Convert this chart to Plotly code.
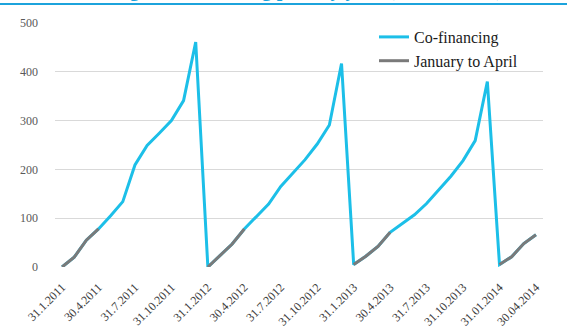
import base64
import plotly.graph_objects as go

# Categories: monthly points Jan 2011 - Apr 2014
years = [2011, 2012, 2013, 2014]
months = [f"{y}-{m:02d}" for y in years for m in range(1, 13)][:40]

cofinancing = [
    0, 20, 55, 78, 105, 134, 209, 249, 274, 300, 341, 461,
    0, 24, 47, 78, 104, 129, 165, 192, 220, 252, 291, 417,
    5, 22, 42, 71, 89, 107, 130, 158, 186, 218, 259, 380,
    5, 21, 48, 66,
]
jan_to_apr = [v if int(m[-2:]) <= 4 else None for m, v in zip(months, cofinancing)]

tick_labels = ["31.1.2011", "30.4.2011", "31.7.2011", "31.10.2011",
               "31.1.2012", "30.4.2012", "31.7.2012", "31.10.2012",
               "31.1.2013", "30.4.2013", "31.7.2013", "31.10.2013",
               "31.01.2014", "30.04.2014"]
tick_positions = months[::3]

W, H = 567, 329
ML, MR, MT, MB = 55, 24, 23, 62
pw, ph = W - ML - MR, H - MT - MB

CYAN = "#1cbfe8"
GRAY = "#7a7a7a"
TITLE = "#1ca3dc"
FONT = "Liberation Serif"


def py(pixel_y):
    """pixel row from top -> paper y"""
    return 1 + (MT - pixel_y) / ph


def px(pixel_x):
    return (pixel_x - ML) / pw


fig = go.Figure()
fig.add_trace(go.Scatter(x=months, y=cofinancing, mode="lines", name="Co-financing",
                         line=dict(color=CYAN, width=3)))
fig.add_trace(go.Scatter(x=months, y=jan_to_apr, mode="lines", name="January to April",
                         line=dict(color=GRAY, width=3), connectgaps=False))

fig.update_layout(
    width=W, height=H,
    margin=dict(l=ML, r=MR, t=MT, b=MB, autoexpand=False),
    paper_bgcolor="white", plot_bgcolor="white",
    font=dict(family=FONT, color="#595959"),
    showlegend=True,
    legend=dict(x=px(374), y=py(20), xanchor="left", yanchor="top",
                font=dict(size=16, color="#1a1a1a", family=FONT),
                bgcolor="rgba(0,0,0,0)", tracegroupgap=0),
    xaxis=dict(type="category", range=[-0.58, len(months) - 1 + 0.58], automargin=False,
               tickmode="array", tickvals=tick_positions, ticktext=tick_labels,
               tickangle=-45, tickfont=dict(size=12, color="#404040"),
               showgrid=False, showline=False, zeroline=False, ticks="",
               ticklabelstandoff=10),
    yaxis=dict(range=[0, 500], tickvals=[0, 100, 200, 300, 400, 500], automargin=False,
               showgrid=True, gridcolor="#d9d9d9", gridwidth=1, zeroline=False,
               showline=False, ticks="", tickfont=dict(size=12, color="#595959"),
               ticklabelstandoff=16),
)

# Title band at top (mostly cropped in the reference): a thin blue rule
svg = ('<svg xmlns="http://www.w3.org/2000/svg" width="10" height="10">'
       f'<rect width="10" height="10" fill="{TITLE}"/></svg>')
uri = "data:image/svg+xml;base64," + base64.b64encode(svg.encode()).decode()
fig.add_layout_image(source=uri, xref="paper", yref="paper",
                     x=px(0), y=py(3), sizex=W / pw, sizey=2 / ph,
                     xanchor="left", yanchor="top", sizing="stretch", layer="above")
fig.add_annotation(xref="paper", yref="paper", x=px(W / 2), y=py(3),
                   yanchor="bottom", xanchor="center", showarrow=False,
                   text="<b>Drawing of co-financing paid by year (in EUR mil.)</b>",
                   font=dict(size=20, color=TITLE, family=FONT))

fig.write_html("out.html")
